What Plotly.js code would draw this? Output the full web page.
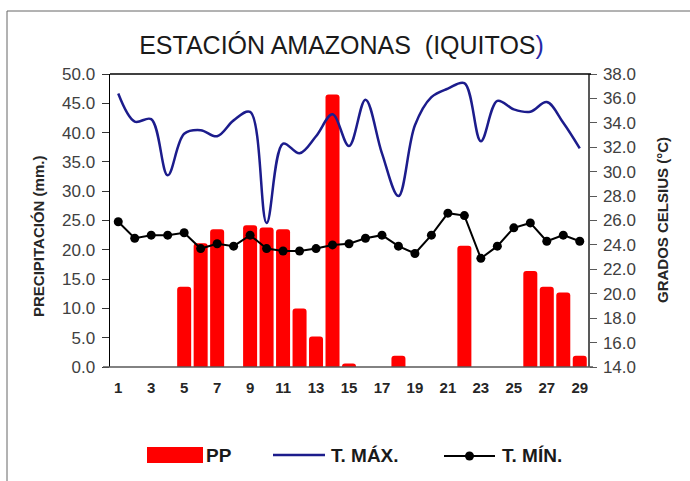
<!DOCTYPE html>
<html>
<head>
<meta charset="utf-8">
<script src="https://cdn.plot.ly/plotly-3.0.1.min.js"></script>
<style>html,body{margin:0;padding:0;background:#fff;overflow:hidden}</style>
</head>
<body>
<div id="chart" style="width:690px;height:481px"></div>
<script>
const days = [1,2,3,4,5,6,7,8,9,10,11,12,13,14,15,16,17,18,19,20,21,22,23,24,25,26,27,28,29];
const pp   = [0,0,0,0,13.7,21.1,23.5,0,24.2,23.8,23.5,10.0,5.2,46.5,0.6,0,0,1.9,0,0,0,20.7,0,0,0,16.4,13.7,12.7,1.9];
const tmax = [36.4,34.1,34.3,29.7,33.1,33.4,32.9,34.2,34.9,25.8,32.3,31.5,32.9,34.7,32.1,35.9,31.5,28.0,33.8,36.1,36.8,37.25,32.5,35.8,35.1,34.9,35.7,34.0,31.9];
const tmin = [25.9,24.55,24.8,24.8,25.0,23.7,24.1,23.9,24.8,23.7,23.5,23.5,23.7,24.0,24.1,24.55,24.8,23.9,23.3,24.8,26.6,26.4,22.9,23.9,25.4,25.8,24.3,24.8,24.3];
const xTickVals = [1,3,5,7,9,11,13,15,17,19,21,23,25,27,29];
const xTickText = ['1','3','5','7','9','11','13','15','17','19','21','23','25','27','29'];

const FONT = 'Liberation Sans, Arial, sans-serif';
const L = 110, T = 74, W = 478, H = 293;
const px = x => (x - L) / W;
const py = y => (T + H - y) / H;

const traces = [
  {type:'bar', x:days, y:pp, name:'PP', width:0.85,
   marker:{color:'#FF0000', cornerradius:3}, yaxis:'y', hoverinfo:'x+y'},
  {type:'scatter', mode:'lines', x:days, y:tmax, name:'T. MÁX.', yaxis:'y2',
   line:{color:'#1C1C8C', width:2.5, shape:'spline', smoothing:1}},
  {type:'scatter', mode:'lines+markers', x:days, y:tmin, name:'T. MÍN.', yaxis:'y2',
   line:{color:'#000000', width:2}, marker:{color:'#000000', size:9}}
];

const ann = (x, y, text, opts) => Object.assign({xref:'paper', yref:'paper', x:px(x), y:py(y), text:text, showarrow:false}, opts);

const layout = {
  width:690, height:481,
  margin:{l:L, r:690-L-W, t:T, b:481-T-H, pad:0},
  paper_bgcolor:'#fff', plot_bgcolor:'#fff',
  showlegend:false,
  font:{family:FONT, color:'#404040'},
  title:{text:'ESTACIÓN AMAZONAS\u00a0\u00a0(IQUITOS<span style="color:#2828a8">)</span>',
         font:{family:FONT, size:25, color:'#1a1a1a'},
         x:341.5/690, xanchor:'center', xref:'container',
         y:1-45/481, yanchor:'middle', yref:'container'},
  xaxis:{range:[0.5,29.5], tickvals:xTickVals, ticktext:xTickText, ticks:'', showline:false,
         showgrid:false, zeroline:false, fixedrange:true,
         tickfont:{family:FONT, size:15, color:'#262626', weight:'bold'}, ticklabelstandoff:10},
  yaxis:{range:[0,50], dtick:5, tickformat:'.1f', ticks:'outside', ticklen:7, tickcolor:'#333',
         tickwidth:1, showline:true, linecolor:'#000', linewidth:1.5, showgrid:false, zeroline:false,
         tickfont:{family:FONT, size:17, color:'#404040'}, ticklabelstandoff:3},
  yaxis2:{range:[14,38], dtick:2, tickformat:'.1f', overlaying:'y', side:'right', ticks:'outside',
          ticklen:7, tickcolor:'#595959', tickwidth:1, showline:true, linecolor:'#595959', linewidth:1.5,
          showgrid:false, zeroline:false, tickfont:{family:FONT, size:17, color:'#404040'}, ticklabelstandoff:3},
  shapes:[
    {type:'line', xref:'paper', yref:'paper', x0:px(7), x1:px(7), y0:py(11), y1:py(600), line:{color:'#666', width:1}},
    {type:'line', xref:'paper', yref:'paper', x0:px(7), x1:px(800), y0:py(11), y1:py(11), line:{color:'#666', width:1}},
    {type:'line', xref:'paper', yref:'paper', x0:0, x1:px(591), y0:1, y1:1, line:{color:'#000', width:1.5}},
    {type:'line', xref:'paper', yref:'paper', x0:px(103), x1:px(593), y0:0, y1:0, line:{color:'#595959', width:1.5}},
    {type:'rect', xref:'paper', yref:'paper', x0:px(147), x1:px(203), y0:py(447), y1:py(463), fillcolor:'#FF0000', line:{width:0}},
    {type:'line', xref:'paper', yref:'paper', x0:px(273), x1:px(325), y0:py(455), y1:py(455), line:{color:'#1C1C8C', width:2.5}},
    {type:'line', xref:'paper', yref:'paper', x0:px(444), x1:px(495), y0:py(456), y1:py(456), line:{color:'#000', width:2}},
    {type:'circle', xref:'paper', yref:'paper', x0:px(465), x1:px(474), y0:py(451.5), y1:py(460.5), fillcolor:'#000', line:{width:0}}
  ],
  annotations:[
    ann(38, 237, 'PRECIPITACIÓN (mm.)', {textangle:-90, xanchor:'center', yanchor:'middle',
        font:{family:FONT, size:15, color:'#262626', weight:'bold'}}),
    ann(662, 220, 'GRADOS CELSIUS (°C)', {textangle:-90, xanchor:'center', yanchor:'middle',
        font:{family:FONT, size:15, color:'#262626', weight:'bold'}}),
    ann(204, 455, 'PP', {xanchor:'left', yanchor:'middle', font:{family:FONT, size:19, color:'#1a1a1a', weight:'bold'}}),
    ann(329, 455, 'T. MÁX.', {xanchor:'left', yanchor:'middle', font:{family:FONT, size:19, color:'#1a1a1a', weight:'bold'}}),
    ann(500, 455, 'T. MÍN.', {xanchor:'left', yanchor:'middle', font:{family:FONT, size:19, color:'#1a1a1a', weight:'bold'}})
  ]
};

Plotly.newPlot('chart', traces, layout, {staticPlot:true, displayModeBar:false});
</script>
</body>
</html>
